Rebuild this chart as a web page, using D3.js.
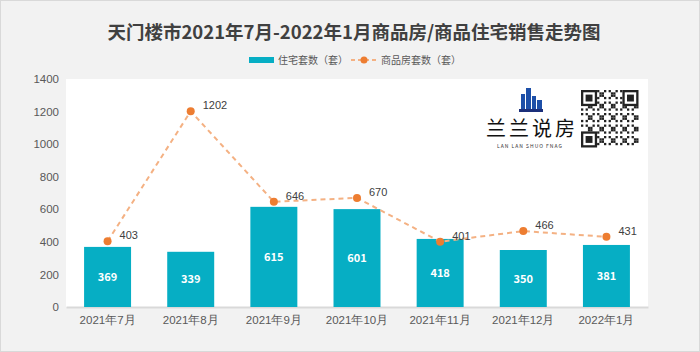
<!DOCTYPE html>
<html><head><meta charset="utf-8">
<script src="https://cdn.jsdelivr.net/npm/d3@7/dist/d3.min.js"></script>
<style>
html,body{margin:0;padding:0;background:#f2f2f2;}
svg{display:block;font-family:"Microsoft YaHei","Noto Sans CJK SC",sans-serif;}
</style></head><body>
<svg id="c" width="700" height="352"></svg>
<script>
const categories = ["2021年7月","2021年8月","2021年9月","2021年10月","2021年11月","2021年12月","2022年1月"];
const residential = [369,339,615,601,418,350,381];
const commercial = [403,1202,646,670,401,466,431];
const yTicks = [0,200,400,600,800,1000,1200,1400];
const title = "天门楼市2021年7月-2022年1月商品房/商品住宅销售走势图";
const legendLabels = ["住宅套数（套）","商品房套数（套）"];

const svg = d3.select("#c");
svg.append("rect").attr("x",0.5).attr("y",0.5).attr("width",699).attr("height",351)
  .attr("fill","#f2f2f2").attr("stroke","#d9d9d9");

const L=66,R=648,T=79,B=307;
svg.append("rect").attr("x",L).attr("y",T).attr("width",R-L).attr("height",B-T).attr("fill","#fff");

const x = d3.scaleBand().domain(categories).range([L,R]).paddingInner(0.435).paddingOuter(0.2175);
const y = d3.scaleLinear().domain([0,1400]).range([B,T]);

svg.append("text").attr("x",354).attr("y",39).attr("text-anchor","middle")
  .attr("font-size",18.5).attr("font-weight","bold").attr("fill","#404040").text(title);

// legend
svg.append("rect").attr("x",249).attr("y",57).attr("width",25).attr("height",6).attr("fill","#06aec4");
svg.append("text").attr("x",278).attr("y",64).attr("font-size",10).attr("fill","#595959").text(legendLabels[0]);
svg.append("line").attr("x1",351).attr("x2",377).attr("y1",60).attr("y2",60)
  .attr("stroke","#f4b183").attr("stroke-width",2).attr("stroke-dasharray","4,3");
svg.append("circle").attr("cx",364).attr("cy",60).attr("r",3.5).attr("fill","#ed7d31");
svg.append("text").attr("x",381).attr("y",64).attr("font-size",10).attr("fill","#595959").text(legendLabels[1]);

// y axis
const ya = svg.append("g").attr("transform",`translate(${L},0)`)
  .call(d3.axisLeft(y).tickValues(yTicks).tickFormat(d3.format("d")).tickSize(0).tickPadding(7));
ya.select(".domain").remove();
ya.selectAll("text").attr("font-size",11.5).attr("fill","#595959").attr("font-family","Arial, Liberation Sans, sans-serif");

// x axis
const xa = svg.append("g").attr("transform",`translate(0,${B})`)
  .call(d3.axisBottom(x).tickSize(0).tickPadding(9));
xa.select(".domain").attr("stroke","#d9d9d9").attr("stroke-width",2);
xa.selectAll("text").attr("font-size",11.5).attr("fill","#595959");

// bars
svg.selectAll(".bar").data(residential).enter().append("rect")
  .attr("x",(d,i)=>x(categories[i])).attr("width",x.bandwidth())
  .attr("y",d=>y(d)).attr("height",d=>B-y(d)).attr("fill","#06aec4");
svg.selectAll(".blab").data(residential).enter().append("text")
  .attr("x",(d,i)=>x(categories[i])+x.bandwidth()/2).attr("y",d=>(y(d)+B)/2+4)
  .attr("text-anchor","middle").attr("font-size",11).attr("font-weight","bold").attr("fill","#fff")
  .text(d=>d);

// line
const cx = i=>x(categories[i])+x.bandwidth()/2;
svg.append("path").datum(commercial)
  .attr("d",d3.line().x((d,i)=>cx(i)).y(d=>y(d)))
  .attr("fill","none").attr("stroke","#f4b183").attr("stroke-width",2).attr("stroke-dasharray","5,4");
svg.selectAll(".pt").data(commercial).enter().append("circle")
  .attr("cx",(d,i)=>cx(i)).attr("cy",d=>y(d)).attr("r",4).attr("fill","#ed7d31");
svg.selectAll(".plab").data(commercial).enter().append("text")
  .attr("x",(d,i)=>cx(i)+12).attr("y",d=>y(d)-2)
  .attr("font-size",11).attr("fill","#404040").attr("font-family","Arial, Liberation Sans, sans-serif")
  .text(d=>d);

// logo
const g = svg.append("g");
g.append("rect").attr("x",519).attr("y",109).attr("width",24).attr("height",3).attr("fill","#1b2f7a");
[[521,94,4,15],[526,88,5,21],[532,96,4,13],[537,100,5,9]].forEach(b=>{
  g.append("rect").attr("x",b[0]).attr("y",b[1]).attr("width",b[2]).attr("height",b[3]).attr("fill","#1d4fa8");
});
g.append("text").attr("x",486).attr("y",136).attr("font-size",20).attr("fill","#111")
  .attr("letter-spacing","3").text("兰兰说房");
g.append("text").attr("x",497).attr("y",148).attr("font-size",5).attr("fill","#333")
  .attr("letter-spacing","1").text("LAN LAN SHUO FNAG");
// QR-like pattern
const q = g.append("g").attr("transform","translate(581,90)");
const n=25, s=2.3;
for(let r=0;r<n;r++)for(let c=0;c<n;c++){
  const inF=(r<7&&c<7)||(r<7&&c>=n-7)||(r>=n-7&&c<7);
  if(inF) continue;
  if(((r*7+c*13+r*c*3)%5)<2) q.append("rect").attr("x",c*s).attr("y",r*s).attr("width",s).attr("height",s).attr("fill","#222");
}
[[0,0],[n-7,0],[0,n-7]].forEach(([c,r])=>{
  q.append("rect").attr("x",c*s+s/2).attr("y",r*s+s/2).attr("width",6*s).attr("height",6*s).attr("fill","#fff").attr("stroke","#222").attr("stroke-width",s);
  q.append("rect").attr("x",(c+2)*s).attr("y",(r+2)*s).attr("width",3*s).attr("height",3*s).attr("fill","#222");
});
</script>
</body></html>
